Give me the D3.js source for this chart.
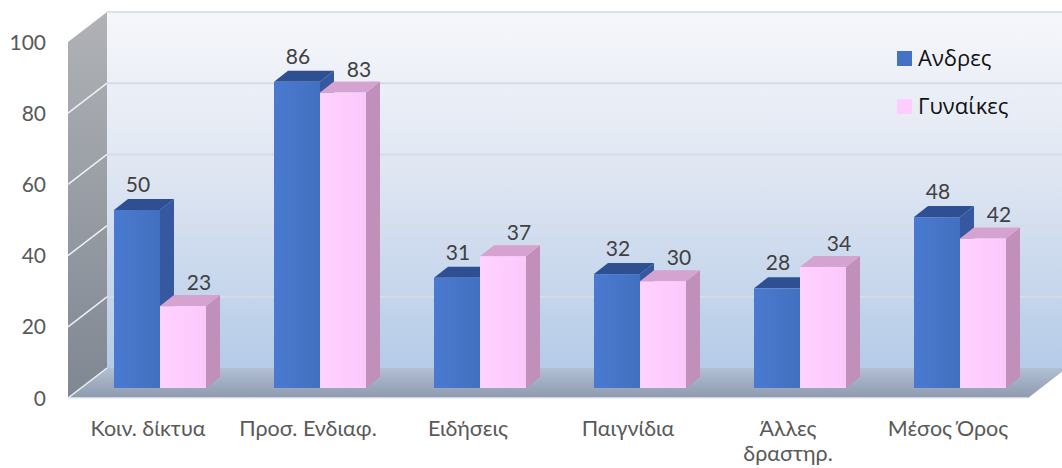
<!DOCTYPE html>
<html><head><meta charset="utf-8">
<script src="https://cdn.jsdelivr.net/npm/d3@7"></script>
<style>html,body{margin:0;padding:0;background:#fff;}svg{display:block;font-family:Lato,"Noto Sans",sans-serif;}</style>
</head><body>
<svg id="c" width="1062" height="468"></svg>
<script>
const categories = ["Κοιν. δίκτυα", "Προσ. Ενδιαφ.", "Ειδήσεις", "Παιγνίδια", "Άλλες δραστηρ.", "Μέσος Όρος"];
const seriesNames = ["Ανδρες", "Γυναίκες"];
const men = [50, 86, 31, 32, 28, 48];
const women = [23, 83, 37, 30, 34, 42];
const yTicks = [0, 20, 40, 60, 80, 100];

const svg = d3.select("#c");
const W = 1062;
const depth = {dx: 39, dy: -30};
const barOff = {dx: 13, dy: -10};
const barDepth = {dx: 14, dy: -11};

const y = d3.scaleLinear().domain([0, 100]).range([398, 42]);
const x = d3.scaleBand().domain(categories).range([68, 1028]).padding(0);
const inner = d3.scaleBand().domain(seriesNames).range([-47, 45]).padding(0);

const defs = svg.append("defs");
function lg(id, stops, x1=0,y1=0,x2=0,y2=1){
  const g = defs.append("linearGradient").attr("id", id).attr("x1",x1).attr("y1",y1).attr("x2",x2).attr("y2",y2);
  stops.forEach(s => g.append("stop").attr("offset", s[0]).attr("stop-color", s[1]));
}
lg("wall", [[0,"#f6f7fb"],[0.45,"#dfe6f2"],[1,"#b5cbe8"]]);
lg("side", [[0,"#b0b2b6"],[1,"#7f8792"]]);
lg("floor", [[0,"#b2c0d4"],[1,"#8e9aad"]]);
lg("blueF", [[0,"#4a7ad0"],[1,"#4270c0"]], 0,0,1,0);
lg("pinkF", [[0,"#ffd2ff"],[1,"#fcc8fc"]], 0,0,1,0);

const backTop = y(100) + depth.dy, backBottom = y(0) + depth.dy, backLeft = x.range()[0] + depth.dx;

// back wall
svg.append("rect").attr("x", backLeft).attr("y", backTop).attr("width", W - backLeft).attr("height", backBottom - backTop).attr("fill", "url(#wall)");
svg.append("line").attr("x1", backLeft).attr("x2", W).attr("y1", backTop).attr("y2", backTop).attr("stroke", "#dde1e8").attr("stroke-width", 2);

// side wall
const x0 = x.range()[0];
svg.append("polygon").attr("points", [[x0, y(100)], [backLeft, backTop], [backLeft, backBottom], [x0, y(0)]].map(p => p.join(",")).join(" ")).attr("fill", "url(#side)");

// floor
const x1 = x.range()[1];
svg.append("polygon").attr("points", [[x0, y(0)], [x1, y(0)], [x1 + depth.dx, backBottom], [backLeft, backBottom]].map(p => p.join(",")).join(" ")).attr("fill", "url(#floor)");
svg.append("line").attr("x1", x0).attr("x2", x1).attr("y1", y(0)).attr("y2", y(0)).attr("stroke", "#e8ecf2").attr("stroke-width", 1.5);
svg.append("line").attr("x1", x0).attr("x2", backLeft).attr("y1", y(0)).attr("y2", backBottom).attr("stroke", "#eef1f5").attr("stroke-width", 1.5);

// gridlines
yTicks.filter(t => t > 0 && t < 100).forEach(t => {
  svg.append("line").attr("x1", x0).attr("y1", y(t)).attr("x2", backLeft).attr("y2", y(t) + depth.dy).attr("stroke", "#eef0f4").attr("stroke-width", 1.5);
  svg.append("line").attr("x1", backLeft).attr("x2", W).attr("y1", y(t) + depth.dy).attr("y2", y(t) + depth.dy).attr("stroke", "#d6dce5").attr("stroke-width", 2);
});

// tick labels
svg.append("g").selectAll("text").data(yTicks).join("text")
  .attr("x", 46).attr("y", d => y(d)).attr("dy", "0.36em").attr("text-anchor", "end")
  .attr("font-size", 21).attr("fill", "#595959").text(d => d);

// bars
const styles = {
  "Ανδρες": {front: "url(#blueF)", side: "#3558a0", top: "#2e5092", labelDx: 1, labelDy: -18, legend: "#4472c4"},
  "Γυναίκες": {front: "url(#pinkF)", side: "#c08fba", top: "#d5a3cf", labelDx: 16, labelDy: -16, legend: "#ffccff"}
};
const data = [];
categories.forEach((c, i) => {
  data.push({cat: c, s: "Ανδρες", v: men[i]});
  data.push({cat: c, s: "Γυναίκες", v: women[i]});
});
const pts = a => a.map(p => p.join(",")).join(" ");
const bars = svg.append("g");
data.forEach(d => {
  const cx = x(d.cat) + x.bandwidth() / 2;
  const l = cx + inner(d.s) + barOff.dx, r = l + inner.bandwidth();
  const t = y(d.v) + barOff.dy, b = y(0) + barOff.dy;
  const st = styles[d.s];
  const g = bars.append("g");
  g.append("polygon").attr("points", pts([[r, t], [r + barDepth.dx, t + barDepth.dy], [r + barDepth.dx, b + barDepth.dy], [r, b]])).attr("fill", st.side);
  g.append("polygon").attr("points", pts([[l, t], [r, t], [r + barDepth.dx, t + barDepth.dy], [l + barDepth.dx, t + barDepth.dy]])).attr("fill", st.top);
  g.append("rect").attr("x", l).attr("y", t).attr("width", r - l).attr("height", b - t).attr("fill", st.front);
  g.append("text").attr("x", (l + r) / 2 + st.labelDx).attr("y", t + st.labelDy).attr("text-anchor", "middle")
    .attr("font-size", 21).attr("fill", "#404040").text(d.v);
});

// category labels
const cl = svg.append("g");
categories.forEach(c => {
  const words = c === "Άλλες δραστηρ." ? ["Άλλες", "δραστηρ."] : [c];
  const tx = cl.append("text").attr("x", x(c) + x.bandwidth() / 2).attr("y", 436).attr("text-anchor", "middle").attr("font-size", 21.5).attr("fill", "#595959");
  words.forEach((w, k) => tx.append("tspan").attr("x", x(c) + x.bandwidth() / 2).attr("dy", k ? 25 : 0).text(w));
});

// legend
const lgG = svg.append("g");
seriesNames.forEach((s, k) => {
  lgG.append("rect").attr("x", 897).attr("y", 51 + k * 48).attr("width", 15).attr("height", 15).attr("fill", styles[s].legend);
  lgG.append("text").attr("x", 918).attr("y", 66 + k * 48).attr("font-size", 22).attr("font-family", "'Open Sans', Lato, sans-serif").attr("fill", "#111").text(s);
});
</script>
</body></html>
